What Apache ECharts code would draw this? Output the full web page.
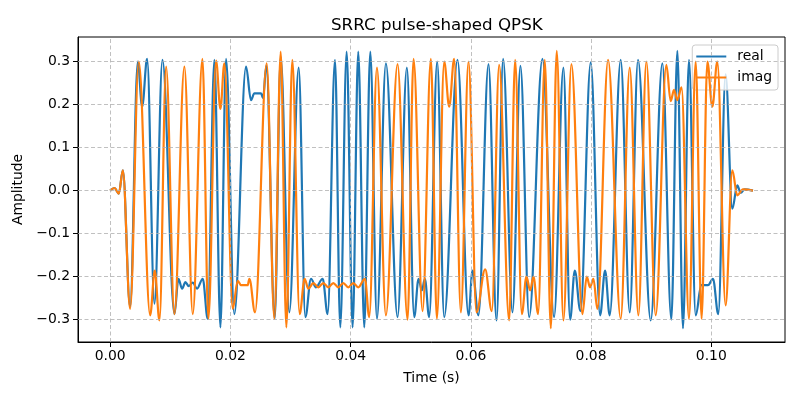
<!DOCTYPE html>
<html><head><meta charset="utf-8">
<script src="https://cdn.jsdelivr.net/npm/echarts@6/dist/echarts.min.js"></script>
<style>html,body{margin:0;padding:0;background:#fff}#c{width:800px;height:400px}</style>
</head><body><div id="c"></div>
<script>
// Times in milliseconds, values in amplitude units
const realTimeMs = [0,0.72,1.44,2.11,3.32,4.60,5.32,6.15,7.37,8.70,10.69,11.36,11.97,12.52,13.07,13.74,14.46,15.40,16.23,17.34,18.34,19.28,20.66,22.60,23.43,23.99,25.10,25.43,25.98,27.37,28.37,29.81,31.36,32.47,33.41,34.24,35.35,36.18,37.40,38.28,39.34,40.33,41.27,42.27,43.27,44.38,45.87,47.81,49.36,50.58,51.30,51.86,52.35,53.07,54.40,55.57,57.78,59.61,60.28,61.27,62.94,64.27,65.37,66.93,68.25,69.70,71.91,73.85,75.40,76.51,77.29,78.23,79.94,81.50,82.33,83.10,84.93,86.43,87.81,89.92,91.86,93.35,94.35,95.29,96.29,97.40,98.34,99.45,100.28,101.16,102.38,103.49,104.32,104.88,105.54,106.93];
const realValues = [0,0.006,-0.007,0.047,-0.27,0.300,0.195,0.306,-0.263,0.304,-0.287,-0.205,-0.228,-0.213,-0.222,-0.214,-0.228,-0.205,-0.298,0.304,-0.318,0.306,-0.287,0.288,0.210,0.226,0.226,0.215,0.290,-0.298,0.310,-0.283,0.286,-0.294,-0.205,-0.225,-0.205,-0.287,0.304,-0.318,0.323,-0.318,0.323,-0.318,0.323,-0.298,0.296,-0.294,0.286,-0.294,-0.205,-0.232,-0.205,-0.294,0.300,-0.294,0.304,-0.290,-0.186,-0.290,0.294,-0.302,0.306,-0.283,0.290,-0.294,0.306,-0.294,0.286,-0.300,-0.186,-0.280,0.298,-0.290,-0.186,-0.290,0.304,-0.283,0.304,-0.302,0.296,-0.300,0.325,-0.320,0.304,-0.290,-0.220,-0.220,-0.205,-0.287,0.270,-0.042,0.012,-0.005,0.003,0];
const imagTimeMs = [0,0.72,1.44,2.11,3.32,4.76,6.65,7.42,8.20,9.31,10.69,12.35,13.74,15.35,16.34,17.62,18.34,19.00,20.39,21.22,21.77,22.88,23.16,24.10,26.04,27.31,28.37,29.31,30.30,31.52,32.35,32.96,33.80,34.63,35.46,36.29,37.12,37.95,38.78,39.61,40.44,41.27,42.38,43.10,44.38,45.87,47.81,49.47,50.47,51.97,53.35,54.35,55.57,56.40,57.23,58.34,59.61,60.94,62.38,63.49,64.71,66.37,67.37,68.48,69.25,69.86,70.42,71.19,72.30,73.30,74.29,75.40,76.73,78.56,79.28,79.83,80.39,81.05,82.83,84.93,86.43,87.87,89.20,90.75,92.52,93.24,93.80,94.35,95.05,96.29,97.40,98.39,99.34,100.17,101.00,102.38,103.49,104.32,105.26,106.93];
const imagValues = [0,0.006,-0.007,0.047,-0.275,0.300,-0.290,-0.186,-0.302,0.288,-0.287,0.288,-0.287,0.306,-0.298,0.302,0.190,0.296,-0.275,-0.210,-0.220,-0.220,-0.205,-0.283,0.296,-0.298,0.323,-0.318,0.304,-0.287,-0.205,-0.228,-0.215,-0.225,-0.215,-0.225,-0.215,-0.225,-0.215,-0.225,-0.215,-0.225,-0.205,-0.294,0.286,-0.290,0.294,-0.300,0.306,-0.280,0.306,-0.298,0.300,0.195,0.306,-0.283,0.300,-0.283,-0.183,-0.280,0.292,-0.302,0.304,-0.287,-0.200,-0.232,-0.200,-0.287,0.304,-0.320,0.325,-0.302,0.294,-0.287,-0.200,-0.225,-0.205,-0.275,0.304,-0.298,0.286,-0.290,0.300,-0.290,0.292,0.208,0.234,0.210,0.240,-0.298,0.300,-0.298,0.300,0.195,0.300,-0.267,0.047,-0.011,0.003,0];
const xTicks = [0, 0.02, 0.04, 0.06, 0.08, 0.10];
const yTicks = [-0.3, -0.2, -0.1, 0, 0.1, 0.2, 0.3];
const xRange = [-0.00535, 0.11226];
const yRange = [-0.352, 0.357];

const FONT = 'DejaVu Sans';
const pairs = (ts, vs) => ts.map((t, i) => [t / 1000, vs[i]]);
const fmtY = v => (v < -1e-9 ? '\u2212' : '') + Math.abs(v).toFixed(1);
const gridMarks = xTicks.map(v => ({ xAxis: v })).concat(yTicks.map(v => ({ yAxis: v })));

const chart = echarts.init(document.getElementById('c'), null, { renderer: 'canvas' });
chart.setOption({
  animation: false,
  backgroundColor: '#fff',
  title: {
    text: 'SRRC pulse-shaped QPSK', left: 326, top: 12,
    textStyle: { fontFamily: FONT, fontSize: 16.7, fontWeight: 'normal', color: '#000' }
  },
  legend: {
    data: ['real', 'imag'], orient: 'vertical', right: 22, top: 45,
    icon: 'rect', itemWidth: 30, itemHeight: 2, itemGap: 6,
    padding: [4, 6, 5, 4],
    backgroundColor: 'rgba(255,255,255,0.8)', borderColor: '#cccccc', borderWidth: 1, borderRadius: 3,
    textStyle: { fontFamily: FONT, fontSize: 13.9, color: '#000', padding: [0, 0, 0, 6], lineHeight: 15 }
  },
  grid: { left: 78, right: 15, top: 37, bottom: 58, show: true, borderColor: '#000', borderWidth: 1, containLabel: false },
  xAxis: {
    type: 'value', min: xRange[0], max: xRange[1],
    name: 'Time (s)', nameLocation: 'middle', nameGap: 29,
    nameTextStyle: { fontFamily: FONT, fontSize: 13.9, color: '#000' },
    axisLine: { show: true, onZero: false, lineStyle: { color: '#000', width: 1 } },
    axisTick: { show: true, customValues: xTicks, length: 5, lineStyle: { color: '#000', width: 1 } },
    axisLabel: { customValues: xTicks, formatter: v => v.toFixed(2), fontFamily: FONT, fontSize: 13.9, color: '#000', margin: 7 },
    splitLine: { show: false }
  },
  yAxis: {
    type: 'value', min: yRange[0], max: yRange[1],
    name: 'Amplitude', nameLocation: 'middle', nameGap: 48,
    nameTextStyle: { fontFamily: FONT, fontSize: 13.9, color: '#000' },
    axisLine: { show: true, onZero: false, lineStyle: { color: '#000', width: 1 } },
    axisTick: { show: true, customValues: yTicks, length: 5, lineStyle: { color: '#000', width: 1 } },
    axisLabel: { customValues: yTicks, formatter: fmtY, fontFamily: FONT, fontSize: 13.9, color: '#000', margin: 8 },
    splitLine: { show: false }
  },
  series: [
    {
      type: 'line', name: 'grid', data: [], silent: true, z: 1,
      markLine: {
        silent: true, symbol: ['none', 'none'], label: { show: false }, animation: false,
        lineStyle: { type: [4, 2.5], color: '#b0b0b0', width: 0.8 },
        data: gridMarks
      }
    },
    {
      type: 'line', name: 'real', data: pairs(realTimeMs, realValues),
      showSymbol: false, symbol: 'none', smooth: 0.36, smoothMonotone: 'x',
      lineStyle: { color: '#1f77b4', width: 2.2 }, itemStyle: { color: '#1f77b4' }, z: 3
    },
    {
      type: 'line', name: 'imag', data: pairs(imagTimeMs, imagValues),
      showSymbol: false, symbol: 'none', smooth: 0.36, smoothMonotone: 'x',
      lineStyle: { color: '#ff7f0e', width: 2.2 }, itemStyle: { color: '#ff7f0e' }, z: 4
    }
  ]
});
</script></body></html>
